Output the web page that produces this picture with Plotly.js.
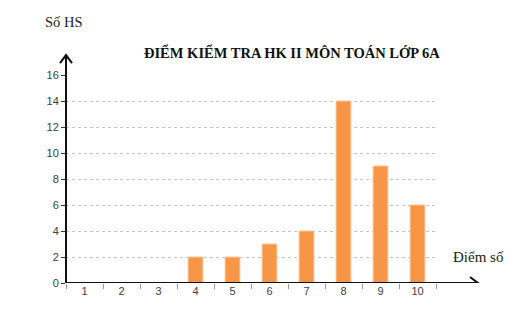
<!DOCTYPE html>
<html>
<head>
<meta charset="utf-8">
<script src="https://cdn.plot.ly/plotly-3.0.1.min.js"></script>
<style>html,body{margin:0;padding:0;background:#fff;}#chart{width:524px;height:330px;}</style>
</head>
<body>
<div id="chart"></div>
<script>
const categories = ['1','2','3','4','5','6','7','8','9','10'];
const counts = [0, 0, 0, 2, 2, 3, 4, 14, 9, 6];
const yTicks = [0, 2, 4, 6, 8, 10, 12, 14, 16];
const chartTitle = 'ĐIỂM KIỂM TRA HK II MÔN TOÁN LỚP 6A';
const yLabel = 'Số HS';
const xLabel = 'Điểm số';

const trace = {
  type: 'bar',
  x: categories,
  y: counts,
  marker: {color: '#F79646', line: {color: '#FBC59A', width: 1}},
  hoverinfo: 'x+y'
};

const xTip = 1.1135, yTip = 1.096;

const layout = {
  width: 524, height: 330,
  margin: {l: 66, r: 88, t: 75, b: 47},
  paper_bgcolor: '#fff', plot_bgcolor: '#fff',
  bargap: 0.6,
  showlegend: false,
  xaxis: {
    type: 'category',
    tickson: 'boundaries',
    ticks: 'outside', ticklen: 5, tickcolor: '#999', tickwidth: 1,
    showgrid: false, showline: false, zeroline: false,
    tickfont: {family: 'Liberation Sans, Arial, sans-serif', size: 11, color: '#404040'}
  },
  yaxis: {
    range: [0, 16],
    tickvals: yTicks,
    ticks: 'outside', ticklen: 4, tickcolor: '#333', tickwidth: 1,
    showgrid: true, gridcolor: '#c4c4c4', griddash: 'dot', gridwidth: 1,
    zeroline: false, showline: false,
    tickfont: {family: 'Liberation Sans, Arial, sans-serif', size: 11, color: '#404040'}
  },
  shapes: [
    {type: 'line', xref: 'paper', yref: 'y', x0: 0, x1: xTip, y0: 0, y1: 0, line: {color: '#111', width: 2}},
    {type: 'line', xref: 'paper', yref: 'paper', x0: 0, x1: 0, y0: 0, y1: yTip, line: {color: '#111', width: 2}},
    {type: 'path', xref: 'paper', yref: 'y', xsizemode: 'pixel', ysizemode: 'pixel', xanchor: xTip, yanchor: 0,
     path: 'M-8,-6 L0,0 L-8,6', line: {color: '#111', width: 2}},
    {type: 'path', xref: 'paper', yref: 'paper', xsizemode: 'pixel', ysizemode: 'pixel', xanchor: 0, yanchor: yTip,
     path: 'M-6,-8 L0,0 L6,-8', line: {color: '#111', width: 2}}
  ],
  annotations: [
    {text: '<b>' + chartTitle + '</b>', xref: 'paper', yref: 'paper', x: 0.61, y: 1.11, xanchor: 'center', yanchor: 'middle',
     showarrow: false, font: {family: 'Liberation Serif, Times New Roman, serif', size: 14.5, color: '#111'}},
    {text: yLabel, xref: 'paper', yref: 'paper', x: -0.062, y: 1.255, xanchor: 'left', yanchor: 'middle',
     showarrow: false, font: {family: 'Liberation Serif, Times New Roman, serif', size: 14.5, color: '#222'}},
    {text: xLabel, xref: 'paper', yref: 'paper', x: 1.04, y: 0.125, xanchor: 'left', yanchor: 'middle',
     showarrow: false, font: {family: 'Liberation Serif, Times New Roman, serif', size: 15, color: '#222'}}
  ]
};

Plotly.newPlot('chart', [trace], layout, {displayModeBar: false, staticPlot: true});
</script>
</body>
</html>
